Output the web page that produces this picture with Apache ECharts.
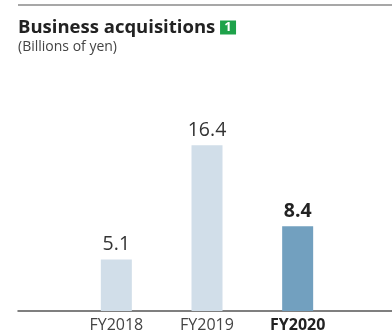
<!DOCTYPE html>
<html>
<head>
<meta charset="utf-8">
<script src="https://cdn.jsdelivr.net/npm/echarts@6/dist/echarts.min.js"></script>
<style>
  html, body { margin: 0; padding: 0; background: #fff; }
  #chart { width: 392px; height: 336px; }
</style>
</head>
<body>
<div id="chart"></div>
<script>
// Fiscal years and business acquisition amounts (billions of yen)
const categories = ['FY2018', 'FY2019', 'FY2020'];
const acquisitions = [5.1, 16.4, 8.4];
const highlightYear = 'FY2020';

const FONT = '"Open Sans", "Noto Sans", sans-serif';
const LIGHT = '#d1dee9';
const DARK = '#72a0bf';

const chart = echarts.init(document.getElementById('chart'), null, { renderer: 'canvas' });

const barData = acquisitions.map((v, i) => {
  const hl = categories[i] === highlightYear;
  return {
    value: v,
    itemStyle: { color: hl ? DARK : LIGHT },
    label: { fontWeight: hl ? 'bold' : 'normal', color: hl ? '#222' : '#333' }
  };
});

chart.setOption({
  animation: false,
  title: [{
    text: 'Business acquisitions {badge|1}',
    left: 18,
    top: 18,
    padding: 0,
    textStyle: {
      fontFamily: FONT,
      fontSize: 18.5,
      fontWeight: 'bold',
      color: '#222',
      rich: {
        badge: {
          fontFamily: FONT,
          fontSize: 13,
          fontWeight: 'bold',
          color: '#fff',
          backgroundColor: '#1ea24a',
          width: 16,
          height: 14,
          lineHeight: 14,
          align: 'center'
        }
      }
    }
  }, {
    text: '(Billions of yen)',
    left: 18,
    top: 40,
    padding: 0,
    textStyle: { fontFamily: FONT, fontSize: 14, fontWeight: 'normal', color: '#444' }
  }],
  graphic: [{
    type: 'line',
    shape: { x1: 18, y1: 5, x2: 392, y2: 5 },
    style: { stroke: '#8a8a8a', lineWidth: 1.5 }
  }],
  grid: [
    { left: 71, right: 49, top: 109, bottom: 25 },
    { left: 18, right: 0, top: 109, bottom: 25 }
  ],
  xAxis: [{
    type: 'category',
    gridIndex: 0,
    data: categories,
    axisLine: { show: false },
    axisTick: { show: false },
    axisLabel: {
      interval: 0,
      margin: 6,
      fontFamily: FONT,
      fontSize: 16,
      color: '#444',
      formatter: v => v === highlightYear ? '{b|' + v + '}' : v,
      rich: { b: { fontFamily: FONT, fontSize: 16, fontWeight: 'bold', color: '#222' } }
    }
  }, {
    type: 'value',
    gridIndex: 1,
    min: 0, max: 1,
    axisLine: { show: true, lineStyle: { color: '#555', width: 1.5 } },
    axisTick: { show: false },
    axisLabel: { show: false },
    splitLine: { show: false }
  }],
  yAxis: [{
    type: 'value',
    gridIndex: 0,
    min: 0, max: 20,
    show: false
  }, {
    type: 'value',
    gridIndex: 1,
    min: 0, max: 1,
    show: false
  }],
  series: [{
    type: 'bar',
    xAxisIndex: 0,
    yAxisIndex: 0,
    barWidth: 31,
    data: barData,
    label: {
      show: true,
      position: 'top',
      distance: 5,
      fontFamily: FONT,
      fontSize: 19.5,
      formatter: p => p.value.toFixed(1)
    }
  }]
});
</script>
</body>
</html>
